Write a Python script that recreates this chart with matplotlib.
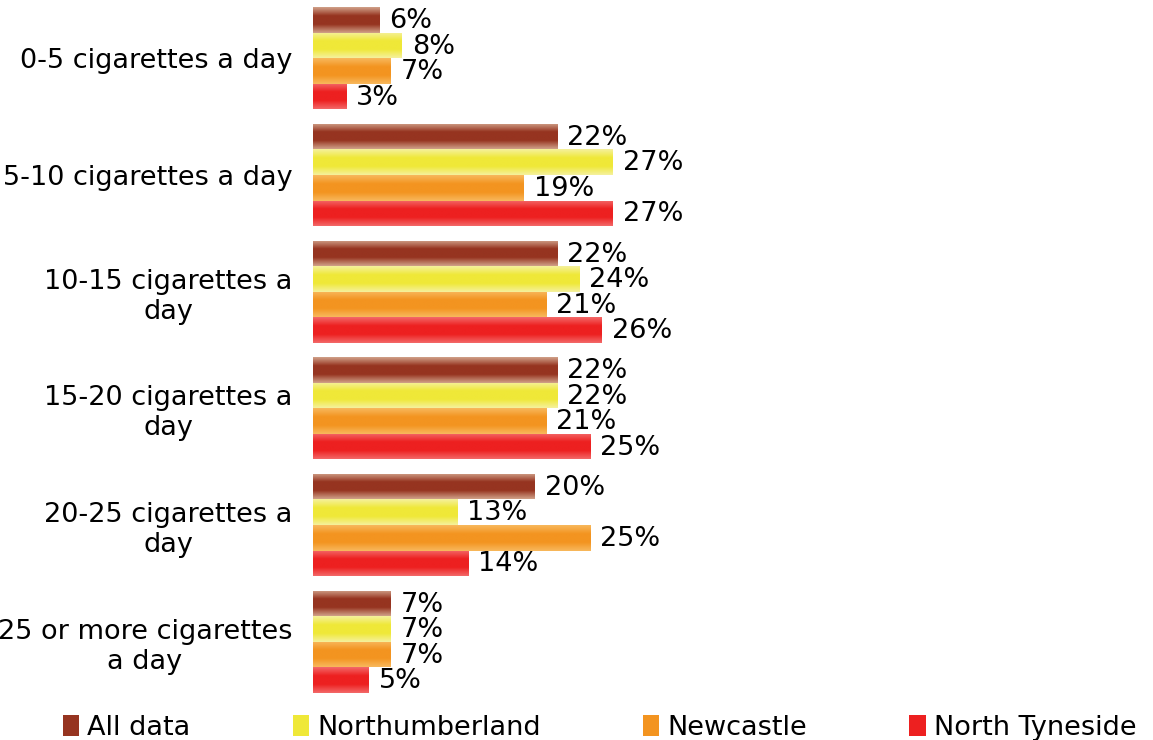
import matplotlib
matplotlib.use("Agg")
import matplotlib.pyplot as plt
import numpy as np
from matplotlib.colors import LinearSegmentedColormap

categories = ["0-5 cigarettes a day", "5-10 cigarettes a day", "10-15 cigarettes a\nday",
              "15-20 cigarettes a\nday", "20-25 cigarettes a\nday", "25 or more cigarettes\na day"]
series_names = ["All data", "Northumberland", "Newcastle", "North Tyneside"]
all_data = [6, 22, 22, 22, 20, 7]
northumberland = [8, 27, 24, 22, 13, 7]
newcastle = [7, 19, 21, 21, 25, 7]
north_tyneside = [3, 27, 26, 25, 14, 5]
series_values = [all_data, northumberland, newcastle, north_tyneside]

# (edge colour, centre colour)
grad_colors = [("#d0a088", "#963420"), ("#f5f19c", "#efe838"),
               ("#f8b85c", "#f39420"), ("#f36868", "#ed2020")]

FS = 19.5
plt.rcParams['font.family'] = ['DejaVu Sans']
fig = plt.figure(figsize=(11.53, 7.40), dpi=100)
ax = fig.add_axes([313/1153, 40/740, 333/1153, 700/740])

n = len(series_values)
h = 0.219
y = np.arange(len(categories))
ax.set_xlim(0, 30)
ax.set_ylim(len(categories) - 0.5, -0.5)

for k, (vals, name, (ce, cc)) in enumerate(zip(series_values, series_names, grad_colors)):
    pos = y + (k - (n - 1) / 2) * h
    bars = ax.barh(pos, vals, height=h, color=cc, label=name, edgecolor='none')
    cmap = LinearSegmentedColormap.from_list("g%d" % k, [ce, cc, cc, ce])
    grad = np.linspace(0, 1, 64).reshape(-1, 1)
    for b, v in zip(bars, vals):
        x0, y0 = b.get_x(), b.get_y()
        w, hh = b.get_width(), b.get_height()
        im = ax.imshow(grad, cmap=cmap, aspect='auto',
                       extent=(x0, x0 + w, y0 + hh, y0), zorder=2, interpolation='bilinear')
        im.set_clip_path(b)
        ax.text(w + 0.9, y0 + hh / 2 + 0.01, "%d%%" % v,
                va='center', ha='left', fontsize=FS, color='#000000', zorder=3)

ax.set_xlim(0, 30)
ax.set_ylim(len(categories) - 0.5, -0.5)
ax.set_yticks(y)
ax.set_yticklabels(categories, fontsize=FS)
for t in ax.get_yticklabels():
    t.set_multialignment('center')
ax.tick_params(axis='y', length=0, pad=15)
ax.set_xticks([])
for s in ax.spines.values():
    s.set_visible(False)

handles, labels = ax.get_legend_handles_labels()
leg = fig.legend(handles, labels, loc='lower left', bbox_to_anchor=(0.045, -0.016, 0.95, 0.05),
                 mode='expand', ncol=4, frameon=False, fontsize=FS,
                 handlelength=0.6, handleheight=0.8, handletextpad=0.3, borderaxespad=0)

fig.savefig("out.png", dpi=100)
